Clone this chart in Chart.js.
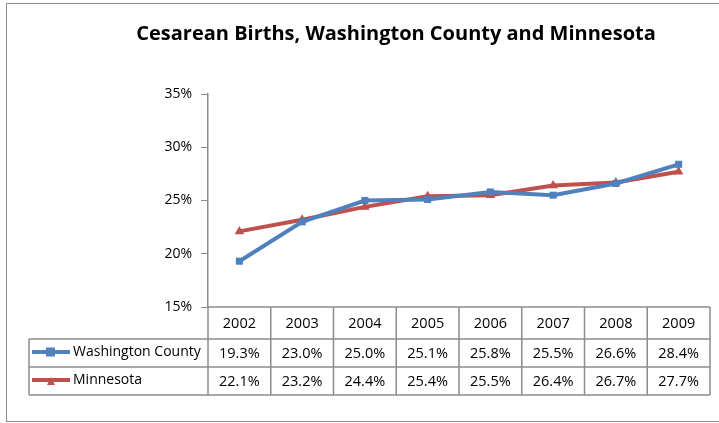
<!DOCTYPE html>
<html>
<head>
<meta charset="utf-8">
<script src="https://cdn.jsdelivr.net/npm/chart.js@4"></script>
<style>
  html, body { margin: 0; padding: 0; background: #fff; }
  #wrap { width: 719px; height: 423px; }
</style>
</head>
<body>
<div id="wrap"><canvas id="grafico" width="719" height="423"></canvas></div>
<script>
// Dados do gráfico
const anos = ['2002', '2003', '2004', '2005', '2006', '2007', '2008', '2009'];
const washington = [19.3, 23.0, 25.0, 25.1, 25.8, 25.5, 26.6, 28.4];
const minnesota = [22.1, 23.2, 24.4, 25.4, 25.5, 26.4, 26.7, 27.7];
const nomesSeries = ['Washington County', 'Minnesota'];
const titulo = 'Cesarean Births, Washington County and Minnesota';

const azul = '#4F81BD';
const vermelho = '#C0504D';
const cinza = '#8C8C8C';
const fonte = '"Open Sans", "Liberation Sans", sans-serif';

// Plugin para desenhar moldura, título e tabela de dados
const tabelaPlugin = {
    id: 'tabela',
    beforeDraw(chart) {
        const ctx = chart.ctx;
        ctx.save();
        ctx.fillStyle = '#fff';
        ctx.fillRect(0, 0, chart.width, chart.height);
        ctx.strokeStyle = cinza;
        ctx.lineWidth = 1;
        ctx.strokeRect(6.5, 3.5, 730, 418);
        ctx.restore();
    },
    afterDraw(chart) {
        const ctx = chart.ctx;
        const area = chart.chartArea;
        const x = chart.scales.x;
        ctx.save();

        // título
        ctx.fillStyle = '#000';
        ctx.font = 'bold 20px ' + fonte;
        ctx.textAlign = 'center';
        ctx.textBaseline = 'middle';
        ctx.fillText(titulo, 396, 34);

        // tabela
        const n = anos.length;
        const larg = (area.right - area.left) / n;
        const linhas = [area.bottom, 339, 367, 395];
        const esq = 29;
        ctx.strokeStyle = cinza;
        ctx.lineWidth = 1.5;
        ctx.beginPath();
        // linhas horizontais
        ctx.moveTo(area.left, linhas[0]); ctx.lineTo(area.right, linhas[0]);
        for (let r = 1; r < linhas.length; r++) {
            ctx.moveTo(esq, linhas[r]); ctx.lineTo(area.right, linhas[r]);
        }
        // linhas verticais
        for (let i = 0; i <= n; i++) {
            const cx = area.left + i * larg;
            ctx.moveTo(cx, linhas[0]); ctx.lineTo(cx, linhas[3]);
        }
        ctx.moveTo(esq, linhas[1]); ctx.lineTo(esq, linhas[3]);
        ctx.stroke();

        ctx.fillStyle = '#000';
        ctx.font = '14.5px ' + fonte;
        ctx.textAlign = 'center';
        const dados = [washington, minnesota];
        anos.forEach((ano, i) => {
            const cx = x.getPixelForValue(i);
            ctx.fillText(ano, cx, (linhas[0] + linhas[1]) / 2 + 1);
            dados.forEach((serie, s) => {
                ctx.fillText(serie[i].toFixed(1) + '%', cx, (linhas[s + 1] + linhas[s + 2]) / 2 + 1);
            });
        });

        // legendas das séries
        const cores = [azul, vermelho];
        ctx.font = '14px ' + fonte;
        nomesSeries.forEach((nome, s) => {
            const cy = (linhas[s + 1] + linhas[s + 2]) / 2 - 1;
            ctx.strokeStyle = cores[s];
            ctx.fillStyle = cores[s];
            ctx.lineWidth = 4;
            ctx.beginPath();
            ctx.moveTo(32, cy); ctx.lineTo(70, cy);
            ctx.stroke();
            if (s === 0) {
                ctx.fillRect(46, cy - 4.5, 9, 9);
            } else {
                ctx.beginPath();
                ctx.moveTo(51, cy - 3); ctx.lineTo(55, cy + 5); ctx.lineTo(47, cy + 5);
                ctx.closePath();
                ctx.fill();
            }
            ctx.fillStyle = '#000';
            ctx.textAlign = 'left';
            ctx.fillText(nome, 73, cy);
        });
        ctx.restore();
    }
};

const ctx = document.getElementById('grafico').getContext('2d');
const meuGrafico = new Chart(ctx, {
    type: 'line',
    data: {
        labels: anos,
        datasets: [{
            label: nomesSeries[0],
            data: washington,
            borderColor: azul,
            backgroundColor: azul,
            borderWidth: 4,
            pointStyle: 'rect',
            pointRadius: 5,
            pointBorderWidth: 0,
            tension: 0
        }, {
            label: nomesSeries[1],
            data: minnesota,
            borderColor: vermelho,
            backgroundColor: vermelho,
            borderWidth: 4,
            pointStyle: 'triangle',
            pointRadius: 5.5,
            pointBorderWidth: 0,
            tension: 0
        }]
    },
    options: {
        responsive: false,
        animation: false,
        layout: { padding: { left: 0, right: 9, top: 94, bottom: 116 } },
        plugins: {
            legend: { display: false },
            tooltip: { enabled: false },
            title: { display: false }
        },
        scales: {
            x: {
                display: false,
                offset: true
            },
            y: {
                min: 15,
                max: 35,
                afterFit(scale) { scale.width = 208; },
                ticks: {
                    stepSize: 5,
                    padding: 9,
                    color: '#000',
                    font: { family: fonte, size: 14 },
                    callback: v => v + '%'
                },
                grid: {
                    drawOnChartArea: false,
                    drawTicks: true,
                    tickLength: 7,
                    color: cinza
                },
                border: { display: true, color: cinza, width: 1.5 }
            }
        }
    },
    plugins: [tabelaPlugin]
});
</script>
</body>
</html>
